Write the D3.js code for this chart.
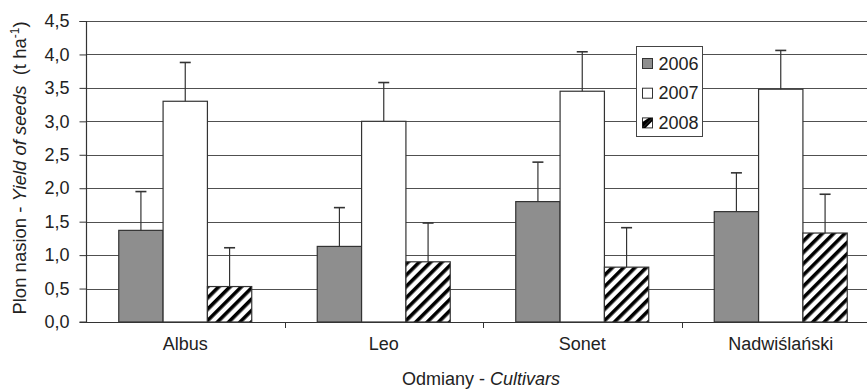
<!DOCTYPE html>
<html>
<head>
<meta charset="utf-8">
<script src="https://cdn.jsdelivr.net/npm/d3@7"></script>
<style>
  body { margin: 0; background: #fff; }
  text { font-family: "Liberation Sans", Arial, sans-serif; fill: #222; }
</style>
</head>
<body>
<div id="chart"></div>
<script>
// data
const cultivars = ['Albus', 'Leo', 'Sonet', 'Nadwiślański'];
const years = ['2006', '2007', '2008'];
const yield2006 = [1.37, 1.13, 1.80, 1.65];
const yield2007 = [3.30, 3.00, 3.45, 3.48];
const yield2008 = [0.53, 0.90, 0.82, 1.33];
const errorBars = [0.58, 0.58, 0.59, 0.58];
const yTicks = [0, 0.5, 1, 1.5, 2, 2.5, 3, 3.5, 4, 4.5];

const series = [yield2006, yield2007, yield2008];

const width = 867;
const height = 390;
const margin = { top: 21, right: -13, bottom: 68, left: 86 };
const innerW = width - margin.left - margin.right;
const innerH = height - margin.top - margin.bottom;

const svg = d3.select('#chart')
  .append('svg')
  .attr('width', width)
  .attr('height', height);

// hatch for 2008
const defs = svg.append('defs');
defs.append('pattern')
  .attr('id', 'hatch')
  .attr('patternUnits', 'userSpaceOnUse')
  .attr('width', 8)
  .attr('height', 8)
  .attr('patternTransform', 'rotate(45)')
  .call(p => {
    p.append('rect').attr('width', 8).attr('height', 8).attr('fill', '#fff');
    p.append('rect').attr('width', 3.6).attr('height', 8).attr('fill', '#000');
  });

const fills = ['#8e8e8e', '#ffffff', 'url(#hatch)'];

const g = svg.append('g')
  .attr('transform', `translate(${margin.left},${margin.top})`);

// scales
const x = d3.scaleBand()
  .domain(cultivars)
  .range([0, innerW]);

const xYear = d3.scaleBand()
  .domain(years)
  .range([x.bandwidth() * 0.165, x.bandwidth() * 0.835]);

const y = d3.scaleLinear()
  .domain([0, 4.5])
  .range([innerH, 0]);

// gridlines
g.append('g')
  .selectAll('line')
  .data(yTicks.filter(d => d > 0))
  .enter()
  .append('line')
  .attr('x1', 0)
  .attr('x2', innerW)
  .attr('y1', d => Math.round(y(d)) + 0.5)
  .attr('y2', d => Math.round(y(d)) + 0.5)
  .attr('stroke', '#505050')
  .attr('stroke-width', 1);

// bars
const groups = g.selectAll('.grp')
  .data(cultivars)
  .enter()
  .append('g')
  .attr('transform', d => `translate(${x(d)},0)`);

years.forEach((yr, k) => {
  groups.append('rect')
    .attr('x', (d, i) => xYear(yr))
    .attr('y', (d, i) => y(series[k][i]))
    .attr('width', xYear.bandwidth())
    .attr('height', (d, i) => innerH - y(series[k][i]))
    .attr('fill', fills[k])
    .attr('stroke', '#333')
    .attr('stroke-width', 1.2);

  // error bars (upper only)
  const cx = xYear(yr) + xYear.bandwidth() / 2;
  groups.append('line')
    .attr('x1', cx).attr('x2', cx)
    .attr('y1', (d, i) => y(series[k][i]))
    .attr('y2', (d, i) => y(series[k][i] + errorBars[i]))
    .attr('stroke', '#333')
    .attr('stroke-width', 1.2);
  groups.append('line')
    .attr('x1', cx - 5.5).attr('x2', cx + 5.5)
    .attr('y1', (d, i) => y(series[k][i] + errorBars[i]))
    .attr('y2', (d, i) => y(series[k][i] + errorBars[i]))
    .attr('stroke', '#333')
    .attr('stroke-width', 1.6);
});

// Y axis
const yAxis = g.append('g')
  .attr('transform', 'translate(0.5,0)')
  .call(d3.axisLeft(y).tickValues(yTicks).tickSize(7).tickPadding(10)
    .tickFormat(d => d3.format('.1f')(d).replace('.', ',')));
yAxis.selectAll('text').style('font-size', '18px').attr('fill', '#222');
yAxis.selectAll('line, path').attr('stroke', '#333');
yAxis.select('.domain').attr('d', `M-7,0.5H0V${innerH}H-7`).attr('stroke-width', 1.2);

// X axis
const xAxis = g.append('g')
  .attr('transform', `translate(0,${Math.round(innerH) + 0.5})`)
  .call(d3.axisBottom(x).tickSize(0).tickPadding(15));
xAxis.select('.domain').attr('stroke', '#333').attr('stroke-width', 1.2)
  .attr('d', `M0,0H${innerW}`);
xAxis.selectAll('text').style('font-size', '18px').attr('fill', '#222');

// category boundary ticks
g.append('g')
  .selectAll('line')
  .data(cultivars.slice(1))
  .enter()
  .append('line')
  .attr('x1', d => Math.round(x(d)) + 0.5)
  .attr('x2', d => Math.round(x(d)) + 0.5)
  .attr('y1', innerH)
  .attr('y2', innerH + 6)
  .attr('stroke', '#333');

// axis titles
svg.append('text')
  .attr('x', 481)
  .attr('y', 385)
  .attr('text-anchor', 'middle')
  .style('font-size', '18px')
  .call(t => {
    t.append('tspan').text('Odmiany - ');
    t.append('tspan').style('font-style', 'italic').text('Cultivars');
  });

svg.append('text')
  .attr('transform', `translate(26,168) rotate(-90)`)
  .attr('text-anchor', 'middle')
  .style('font-size', '18.5px')
  .call(t => {
    t.append('tspan').text('Plon nasion - ');
    t.append('tspan').style('font-style', 'italic').text('Yield of seeds');
    t.append('tspan').text('\u00a0 (t ha');
    t.append('tspan').attr('dy', -7).style('font-size', '12px').text('-1');
    t.append('tspan').attr('dy', 7).text(')');
  });

// legend
const legend = svg.append('g').attr('transform', 'translate(636.5,46.5)');
legend.append('rect')
  .attr('width', 66).attr('height', 90)
  .attr('fill', '#fff').attr('stroke', '#444');

const items = legend.selectAll('.item')
  .data(years)
  .enter()
  .append('g')
  .attr('transform', (d, i) => `translate(6,${12 + i * 29.7})`);

items.append('rect')
  .attr('width', 10).attr('height', 10)
  .attr('fill', (d, i) => i === 2 ? '#fff' : fills[i])
  .attr('stroke', '#333');
items.filter((d, i) => i === 2)
  .append('path')
  .attr('d', 'M0,10L10,0L10,3L3,10Z')
  .attr('fill', '#000');
items.filter((d, i) => i === 2)
  .append('path')
  .attr('d', 'M0,10L0,4L6,0L10,0Z')
  .attr('fill', '#000');

items.append('text')
  .attr('x', 16)
  .attr('y', 11)
  .style('font-size', '18px')
  .text(d => d);
</script>
</body>
</html>
